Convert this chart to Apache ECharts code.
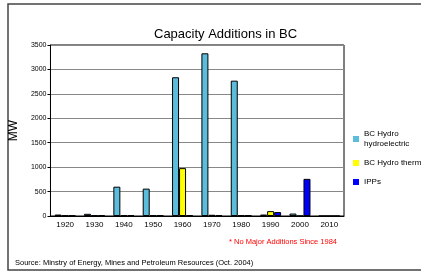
<!DOCTYPE html>
<html>
<head>
<meta charset="utf-8">
<script src="https://cdn.jsdelivr.net/npm/echarts@6/dist/echarts.min.js"></script>
<style>
  html, body { margin: 0; padding: 0; background: #fff; }
  #chart { width: 421px; height: 272px; }
</style>
</head>
<body>
<div id="chart"></div>
<script>
// decades on the x axis
var decades = ['1920', '1930', '1940', '1950', '1960', '1970', '1980', '1990', '2000', '2010'];
// MW added per decade
var hydroElectric = [30, 45, 600, 560, 2840, 3330, 2770, 30, 50, 0];
var hydroThermal = [10, 15, 15, 15, 980, 25, 15, 100, 0, 0];
var ipps = [10, 15, 15, 15, 15, 15, 15, 80, 760, 0];
var seriesNames = ['BC Hydro\nhydroelectric', 'BC Hydro thermal', 'IPPs'];

var font = 'Liberation Sans, Arial, sans-serif';

var barSeries = function (name, data, color) {
    return {
        name: name,
        type: 'bar',
        data: data,
        barWidth: 7,
        barGap: '0%',
        itemStyle: {color: color, borderColor: '#000', borderWidth: 1}
    };
};

var chart = echarts.init(document.getElementById('chart'), null, {renderer: 'canvas'});
chart.setOption({
    animation: false,
    textStyle: {fontFamily: font},
    title: {
        text: 'Capacity Additions in BC',
        left: 149,
        top: 23,
        textStyle: {fontSize: 13, fontWeight: 'normal', color: '#000', fontFamily: font}
    },
    legend: {
        orient: 'vertical',
        left: 348,
        top: 124,
        itemWidth: 6,
        itemHeight: 6,
        itemGap: 9,
        icon: 'rect',
        data: seriesNames,
        itemStyle: {borderWidth: 0},
        textStyle: {fontSize: 8, color: '#000', lineHeight: 10, fontFamily: font}
    },
    grid: {left: 49, right: 77, top: 45, bottom: 56, show: true, borderColor: '#000', borderWidth: 1},
    xAxis: {
        type: 'category',
        data: decades,
        axisLine: {lineStyle: {color: '#000', width: 1}},
        axisTick: {length: 4, lineStyle: {color: '#000', width: 2}},
        axisLabel: {fontSize: 8, color: '#000', margin: 5}
    },
    yAxis: {
        type: 'value',
        name: 'MW',
        nameLocation: 'middle',
        nameGap: 20,
        nameTextStyle: {fontSize: 12, color: '#000'},
        min: 0,
        max: 3500,
        interval: 500,
        axisLine: {show: true, lineStyle: {color: '#000'}},
        axisTick: {show: true, length: 3, lineStyle: {color: '#000'}},
        axisLabel: {fontSize: 7, color: '#000', margin: 4, formatter: function (v) { return String(v); }},
        splitLine: {lineStyle: {color: '#888', width: 1}}
    },
    series: [
        barSeries(seriesNames[0], hydroElectric, '#5bbddb'),
        barSeries(seriesNames[1], hydroThermal, '#ffff00'),
        barSeries(seriesNames[2], ipps, '#0000ff')
    ],
    graphic: [
        {
            type: 'rect',
            shape: {x: 8, y: 4, width: 440, height: 266},
            style: {fill: 'none', stroke: '#444', lineWidth: 1.5},
            silent: true
        },
        {
            type: 'text',
            left: 229,
            top: 238,
            style: {text: '* No Major Additions Since 1984', fill: '#ff0000', font: '7.5px ' + font}
        },
        {
            type: 'text',
            left: 15,
            top: 259,
            style: {text: 'Source: Minstry of Energy, Mines and Petroleum Resources (Oct. 2004)', fill: '#000', font: '7.5px ' + font}
        }
    ]
});
</script>
</body>
</html>
